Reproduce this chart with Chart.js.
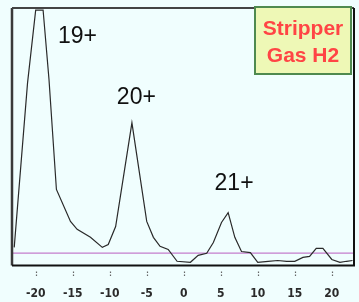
<!DOCTYPE html>
<html>
<head>
<meta charset="utf-8">
<script src="https://cdn.jsdelivr.net/npm/chart.js@4.4.1/dist/chart.umd.min.js"></script>
<style>
html,body{margin:0;padding:0;background:#f0fefe;}
#wrap{width:359px;height:302px;position:relative;}
</style>
</head>
<body>
<div id="wrap"><canvas id="c" width="359" height="302"></canvas></div>
<script>
// x positions and intensities
const xValues = [-22.9, -21.1, -20.0, -19.0, -18.2, -17.2, -15.3, -14.4, -12.6, -11.0, -10.2, -9.2, -7.0, -5.0, -4.1, -3.2, -2.1, -0.9, 0.9, 1.95, 3.1, 4.0, 5.1, 6.0, 6.9, 7.8, 9.0, 10.0, 11.4, 12.7, 13.9, 15.0, 16.1, 17.0, 17.9, 18.8, 20.0, 21.1, 22.0, 22.8];
const intensity = [7.0, 70.9, 99.2, 99.2, 72.1, 29.5, 17.1, 14.0, 10.9, 7.0, 8.1, 15.1, 55.4, 17.1, 10.9, 7.4, 6.2, 1.6, 1.2, 3.9, 4.7, 8.9, 16.7, 20.5, 10.9, 5.4, 5.0, 1.2, 1.6, 1.9, 1.6, 1.6, 3.1, 3.5, 6.6, 6.6, 2.3, 1.2, 1.6, 1.9];
const baselineX = [-23.2, 23.0];
const baselineY = [4.8, 4.8];
const tickValues = [-20, -15, -10, -5, 0, 5, 10, 15, 20];
const peakLabels = ['19+', '20+', '21+'];
const peakLabelX = [-14.35, -6.4, 6.8];
const peakLabelY = [89.0, 65.1, 31.8];
const legendLines = ['Stripper', 'Gas H2'];

const curve = xValues.map((x, i) => ({x, y: intensity[i]}));
const base = baselineX.map((x, i) => ({x, y: baselineY[i]}));

const decor = {
  id: 'decor',
  beforeDraw(chart) {
    const {ctx} = chart;
    ctx.save();
    ctx.fillStyle = '#f0fefe';
    ctx.fillRect(0, 0, chart.width, chart.height);
    ctx.restore();
  },
  afterDraw(chart) {
    const {ctx, chartArea: a, scales} = chart;
    const xs = scales.x, ys = scales.y;
    ctx.save();
    // frame
    ctx.strokeStyle = '#3a3a3a';
    ctx.lineWidth = 2.5;
    ctx.beginPath(); ctx.moveTo(a.left, a.top); ctx.lineTo(a.left, a.bottom); ctx.stroke();
    ctx.lineWidth = 2;
    ctx.strokeStyle = '#444';
    ctx.beginPath(); ctx.moveTo(a.left, a.top); ctx.lineTo(a.right, a.top); ctx.stroke();
    ctx.strokeStyle = '#111';
    ctx.beginPath(); ctx.moveTo(a.right, a.top); ctx.lineTo(a.right, a.bottom); ctx.lineTo(a.left, a.bottom); ctx.stroke();
    // dotted tick marks
    ctx.strokeStyle = '#666';
    ctx.lineWidth = 1.2;
    ctx.setLineDash([1.5, 1.5]);
    tickValues.forEach(v => {
      const px = Math.round(xs.getPixelForValue(v)) + 0.5;
      ctx.beginPath(); ctx.moveTo(px, a.bottom + 6); ctx.lineTo(px, a.bottom + 12); ctx.stroke();
    });
    ctx.setLineDash([]);
    // peak labels
    ctx.fillStyle = '#111';
    ctx.font = '23px "Liberation Sans", Arial, sans-serif';
    ctx.textAlign = 'center';
    ctx.textBaseline = 'middle';
    peakLabels.forEach((t, i) => {
      ctx.fillText(t, xs.getPixelForValue(peakLabelX[i]), ys.getPixelForValue(peakLabelY[i]));
    });
    // legend box
    const bx = 255, by = 7, bw = 96, bh = 67;
    ctx.fillStyle = '#eef8b6';
    ctx.fillRect(bx, by, bw, bh);
    ctx.strokeStyle = '#4f8a4f';
    ctx.lineWidth = 2;
    ctx.strokeRect(bx, by, bw, bh);
    ctx.fillStyle = '#ff4545';
    ctx.font = 'bold 21px "Liberation Sans", Arial, sans-serif';
    ctx.fillText(legendLines[0], bx + bw / 2, 29);
    ctx.fillText(legendLines[1], bx + bw / 2, 56);
    ctx.restore();
  }
};

new Chart(document.getElementById('c'), {
  type: 'line',
  data: {
    datasets: [
      {data: curve, borderColor: '#2a2a2a', borderWidth: 1.2, pointRadius: 0, tension: 0, fill: false},
      {data: base, borderColor: '#c47ccc', borderWidth: 1.2, pointRadius: 0, tension: 0, fill: false}
    ]
  },
  options: {
    responsive: false,
    animation: false,
    events: [],
    layout: {padding: {left: 12, right: 5, top: 8, bottom: 0.6}},
    plugins: {legend: {display: false}, tooltip: {enabled: false}},
    scales: {
      x: {
        type: 'linear',
        min: -23.2, max: 23.0,
        border: {display: false},
        grid: {display: true, drawOnChartArea: false, drawTicks: true, tickLength: 20.4, color: 'rgba(0,0,0,0)'},
        afterBuildTicks(scale) { scale.ticks = tickValues.map(v => ({value: v})); },
        ticks: {
          padding: 0.6,
          color: '#2a2a2a',
          font: {family: '"DejaVu Sans Condensed", "DejaVu Sans", sans-serif', size: 12, weight: 'bold', lineHeight: 1.2},
          maxRotation: 0,
          autoSkip: false
        }
      },
      y: {
        display: false,
        min: 0, max: 100
      }
    }
  },
  plugins: [decor]
});
</script>
</body>
</html>
